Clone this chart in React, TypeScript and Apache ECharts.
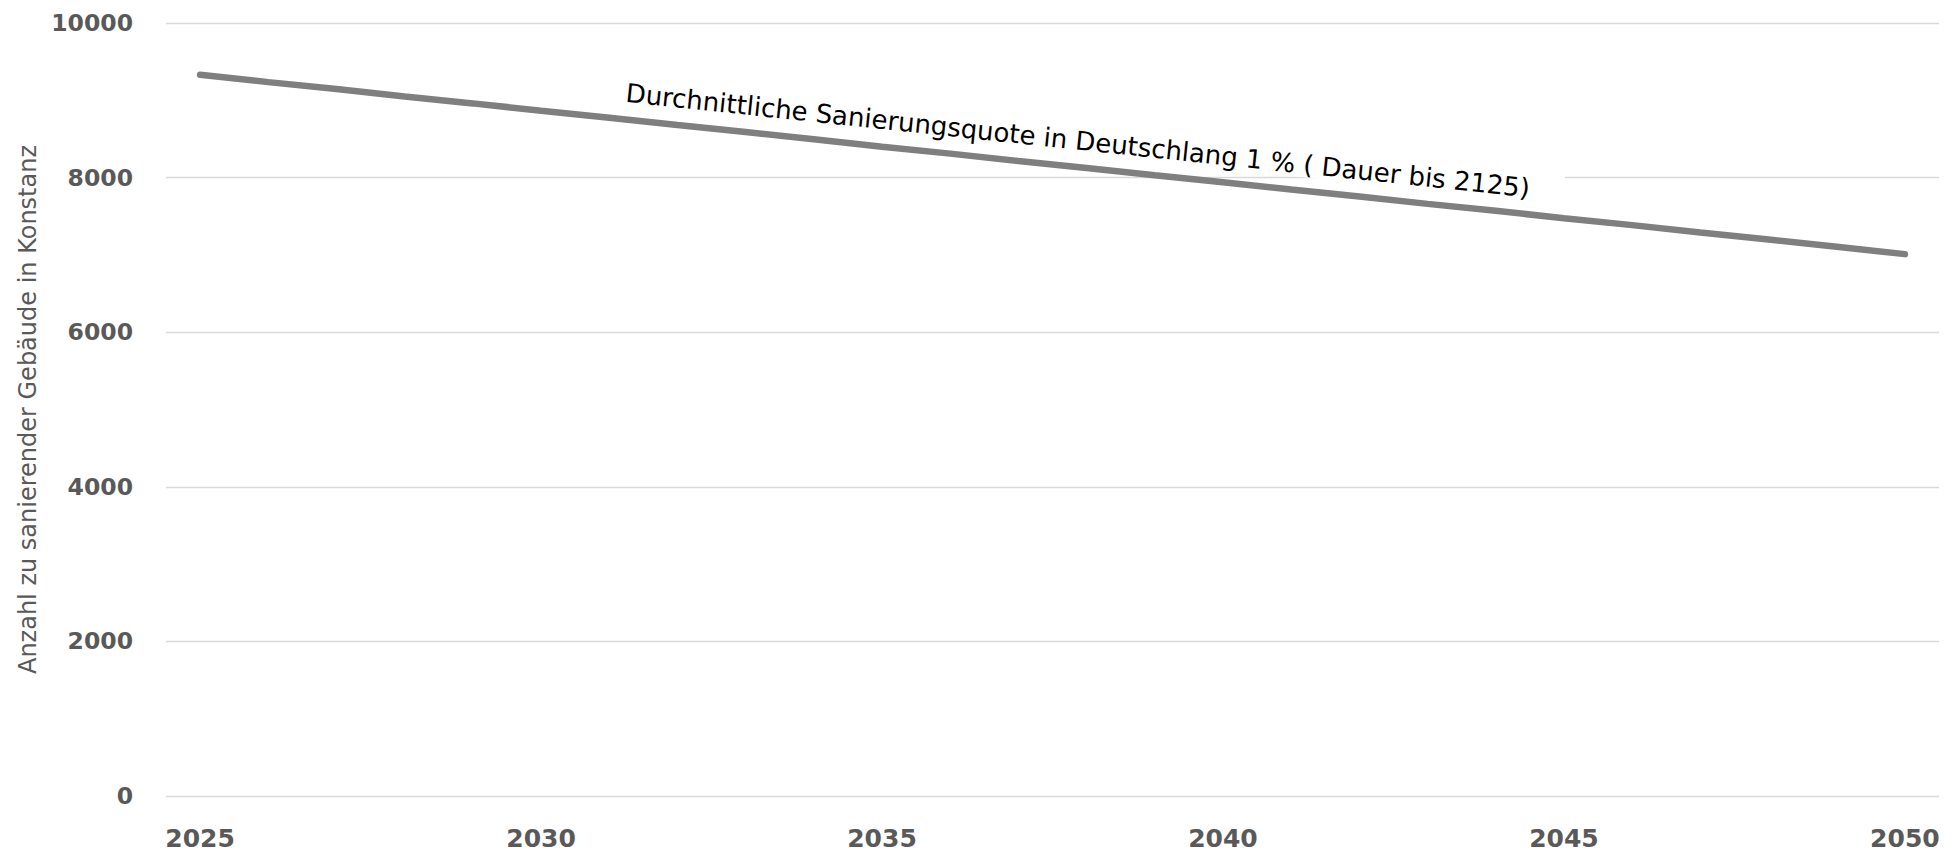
import React, { useEffect, useRef } from "react";
import * as echarts from "echarts";

const years: string[] = [
  "2025", "2026", "2027", "2028", "2029", "2030", "2031", "2032", "2033",
  "2034", "2035", "2036", "2037", "2038", "2039", "2040", "2041", "2042",
  "2043", "2044", "2045", "2046", "2047", "2048", "2049", "2050",
];

const buildings: number[] = [
  9330, 9235, 9145, 9050, 8960, 8865, 8775, 8680, 8590, 8495, 8400, 8310,
  8215, 8125, 8030, 7940, 7845, 7755, 7660, 7570, 7475, 7385, 7290, 7200,
  7105, 7010,
];

const yMin = 0;
const yMax = 10000;
const yStep = 2000;

const yAxisTitle = "Anzahl zu sanierender Gebäude in Konstanz";
const annotation =
  "Durchnittliche Sanierungsquote in Deutschlang 1 % ( Dauer bis 2125)";

const FONT = "'DejaVu Sans', 'Open Sans', sans-serif";

export default function App() {
  const ref = useRef<HTMLDivElement>(null);

  useEffect(() => {
    if (!ref.current) return;
    const chart = echarts.init(ref.current, null, { renderer: "svg" });
    const option: any = {
      animation: false,
      backgroundColor: "#ffffff",
      grid: { left: 166, right: 15, top: 23, bottom: 63, containLabel: false },
      xAxis: {
        type: "category",
        data: years,
        boundaryGap: true,
        axisLine: { show: false },
        axisTick: { show: false },
        axisLabel: {
          interval: 4,
          margin: 30,
          color: "#595959",
          fontFamily: FONT,
          fontWeight: "bold",
          fontSize: 25,
        },
        splitLine: { show: false },
      },
      yAxis: {
        type: "value",
        min: yMin,
        max: yMax,
        interval: yStep,
        name: yAxisTitle,
        nameLocation: "middle",
        nameGap: 126.5,
        nameTextStyle: {
          color: "#595959",
          fontFamily: FONT,
          fontSize: 24,
        },
        axisLine: { show: false },
        axisTick: { show: false },
        axisLabel: {
          margin: 33,
          color: "#595959",
          fontFamily: FONT,
          fontWeight: "bold",
          fontSize: 23.5,
          formatter: (v: number) => String(v),
        },
        splitLine: { show: true, lineStyle: { color: "#d9d9d9", width: 1.3 } },
      },
      series: [
        {
          type: "line",
          data: buildings,
          showSymbol: false,
          symbol: "none",
          lineStyle: { color: "#7f7f7f", width: 6.5, cap: "round" },
          z: 3,
        },
      ],
    };
    chart.setOption(option);

    const last = years.length - 1;
    const p0 = chart.convertToPixel({ gridIndex: 0 }, [0, buildings[0]]) as number[];
    const pN = chart.convertToPixel({ gridIndex: 0 }, [last, buildings[last]]) as number[];
    const theta = Math.atan2(pN[1] - p0[1], pN[0] - p0[0]);
    const anchorIdx = 6;
    const pa = chart.convertToPixel({ gridIndex: 0 }, [anchorIdx, buildings[anchorIdx]]) as number[];
    const d = [Math.cos(theta), Math.sin(theta)];
    const n = [Math.sin(theta), -Math.cos(theta)];
    const along = 14;
    const up = 16.5;
    const bx = pa[0] + along * d[0] + up * n[0];
    const by = pa[1] + along * d[1] + up * n[1];
    const fs = 26;

    chart.setOption({
      graphic: [
        {
          type: "group",
          x: bx,
          y: by,
          rotation: -theta,
          z: 50,
          children: [
            {
              type: "rect",
              shape: { x: -8, y: -31, width: 950, height: 34 },
              style: { fill: "#ffffff" },
              z: 50,
            },
            {
              type: "text",
              x: 0,
              y: -0.38 * fs,
              style: {
                text: annotation,
                fill: "#000000",
                font: `${fs}px ${FONT}`,
                align: "left",
                verticalAlign: "middle",
              },
              z: 51,
            },
          ],
        },
      ],
    });

    return () => {
      chart.dispose();
    };
  }, []);

  return (
    <div
      ref={ref}
      style={{ position: "fixed", left: 0, top: 0, width: "1954px", height: "859px" }}
    />
  );
}
